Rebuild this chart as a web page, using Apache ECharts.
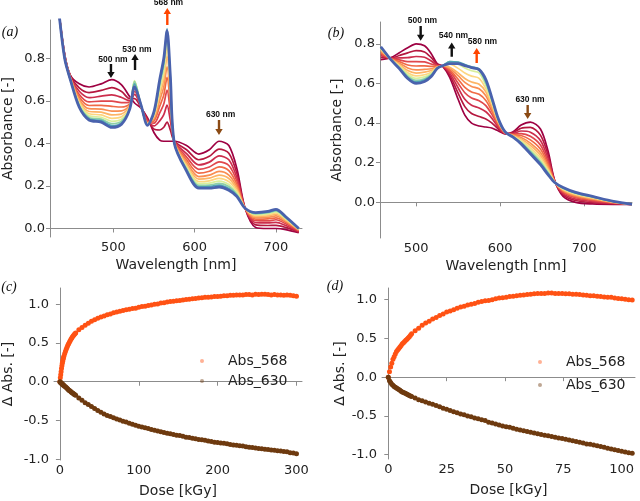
<!DOCTYPE html>
<html>
<head>
<meta charset="utf-8">
<script src="https://cdn.jsdelivr.net/npm/echarts@6/dist/echarts.min.js"></script>
<style>
  html, body { margin: 0; padding: 0; background: #fff; }
  .main { width: 640px; height: 501px; }
</style>
</head>
<body>
<div class="main"></div>
<script>
// ---- data ----
// (a) wavelength grid and spectra, first (dark red) to last (blue)
var wlA = [432, 440, 447, 458, 470, 485, 498, 510, 520, 526, 534, 542, 550, 557, 562, 566, 570, 575, 590, 605, 618, 630, 642, 652, 662, 675, 690, 700, 712, 728];
var specA = [
  [1.05, 0.82, 0.72, 0.68, 0.665, 0.68, 0.70, 0.675, 0.62, 0.59, 0.565, 0.52, 0.45, 0.415, 0.41, 0.41, 0.41, 0.41, 0.39, 0.35, 0.37, 0.41, 0.39, 0.28, 0.095, 0.005, 0.0, 0.0, -0.005, -0.02],
  [1.05, 0.82, 0.72, 0.661, 0.639, 0.649, 0.662, 0.644, 0.61, 0.61, 0.568, 0.514, 0.467, 0.463, 0.476, 0.50, 0.463, 0.41, 0.37, 0.323, 0.339, 0.373, 0.354, 0.258, 0.095, 0.017, 0.014, 0.015, 0.005, -0.017],
  [1.05, 0.81, 0.71, 0.645, 0.615, 0.622, 0.628, 0.616, 0.60, 0.63, 0.57, 0.509, 0.482, 0.506, 0.535, 0.58, 0.509, 0.41, 0.352, 0.299, 0.312, 0.341, 0.323, 0.238, 0.095, 0.027, 0.026, 0.029, 0.014, -0.014],
  [1.05, 0.81, 0.71, 0.63, 0.595, 0.599, 0.599, 0.592, 0.593, 0.645, 0.572, 0.504, 0.495, 0.543, 0.586, 0.65, 0.55, 0.41, 0.336, 0.278, 0.289, 0.313, 0.296, 0.222, 0.095, 0.037, 0.036, 0.041, 0.022, -0.011],
  [1.05, 0.81, 0.71, 0.618, 0.578, 0.579, 0.574, 0.571, 0.586, 0.66, 0.573, 0.50, 0.506, 0.575, 0.628, 0.71, 0.584, 0.405, 0.323, 0.26, 0.269, 0.29, 0.272, 0.207, 0.095, 0.044, 0.045, 0.05, 0.029, -0.009],
  [1.05, 0.81, 0.71, 0.607, 0.563, 0.561, 0.552, 0.553, 0.58, 0.67, 0.575, 0.497, 0.516, 0.603, 0.667, 0.76, 0.615, 0.405, 0.311, 0.244, 0.251, 0.268, 0.251, 0.194, 0.095, 0.051, 0.053, 0.059, 0.035, -0.007],
  [1.05, 0.81, 0.71, 0.599, 0.55, 0.547, 0.534, 0.538, 0.576, 0.68, 0.576, 0.494, 0.524, 0.626, 0.699, 0.81, 0.639, 0.405, 0.301, 0.232, 0.237, 0.251, 0.235, 0.184, 0.095, 0.057, 0.059, 0.067, 0.039, -0.005],
  [1.05, 0.80, 0.70, 0.591, 0.539, 0.534, 0.518, 0.525, 0.571, 0.69, 0.577, 0.492, 0.531, 0.646, 0.726, 0.85, 0.661, 0.40, 0.293, 0.22, 0.224, 0.236, 0.22, 0.175, 0.095, 0.062, 0.065, 0.073, 0.044, -0.004],
  [1.05, 0.80, 0.70, 0.584, 0.53, 0.523, 0.504, 0.514, 0.568, 0.695, 0.578, 0.49, 0.537, 0.663, 0.749, 0.89, 0.68, 0.40, 0.286, 0.211, 0.213, 0.223, 0.207, 0.167, 0.095, 0.066, 0.07, 0.078, 0.047, -0.003],
  [1.05, 0.80, 0.70, 0.579, 0.522, 0.514, 0.493, 0.505, 0.565, 0.69, 0.579, 0.488, 0.542, 0.677, 0.769, 0.93, 0.695, 0.40, 0.28, 0.203, 0.204, 0.212, 0.197, 0.16, 0.095, 0.069, 0.074, 0.083, 0.05, -0.002],
  [1.05, 0.80, 0.70, 0.574, 0.516, 0.507, 0.484, 0.497, 0.562, 0.68, 0.579, 0.486, 0.546, 0.689, 0.784, 0.94, 0.708, 0.40, 0.275, 0.196, 0.197, 0.204, 0.188, 0.155, 0.095, 0.072, 0.077, 0.086, 0.053, -0.001],
  [1.05, 0.80, 0.70, 0.57, 0.51, 0.50, 0.475, 0.49, 0.56, 0.665, 0.58, 0.485, 0.55, 0.70, 0.80, 0.93, 0.72, 0.40, 0.27, 0.19, 0.19, 0.195, 0.18, 0.15, 0.095, 0.075, 0.08, 0.09, 0.055, 0.0]
];

// (b) wavelength grid and spectra
var wlB = [458, 470, 480, 490, 500, 510, 518, 525, 532, 540, 550, 558, 566, 575, 583, 590, 598, 606, 615, 625, 636, 648, 657, 665, 675, 690, 710, 735, 757];
var specB = [
  [0.72, 0.73, 0.755, 0.78, 0.80, 0.79, 0.75, 0.70, 0.685, 0.63, 0.52, 0.44, 0.40, 0.385, 0.38, 0.375, 0.36, 0.345, 0.355, 0.39, 0.405, 0.37, 0.26, 0.11, 0.03, 0.0, -0.008, -0.01, -0.01],
  [0.731, 0.728, 0.741, 0.754, 0.766, 0.759, 0.73, 0.696, 0.686, 0.642, 0.551, 0.483, 0.448, 0.433, 0.421, 0.401, 0.37, 0.347, 0.351, 0.374, 0.378, 0.339, 0.24, 0.108, 0.038, 0.009, -0.002, -0.007, -0.01],
  [0.741, 0.727, 0.729, 0.73, 0.736, 0.732, 0.713, 0.692, 0.687, 0.652, 0.578, 0.52, 0.49, 0.476, 0.457, 0.425, 0.379, 0.348, 0.347, 0.36, 0.354, 0.312, 0.222, 0.107, 0.044, 0.016, 0.004, -0.005, -0.01],
  [0.749, 0.726, 0.719, 0.71, 0.71, 0.709, 0.698, 0.689, 0.687, 0.662, 0.601, 0.553, 0.526, 0.513, 0.488, 0.445, 0.387, 0.35, 0.344, 0.347, 0.333, 0.289, 0.206, 0.106, 0.05, 0.023, 0.009, -0.003, -0.01],
  [0.756, 0.724, 0.71, 0.693, 0.688, 0.689, 0.686, 0.686, 0.688, 0.669, 0.621, 0.58, 0.557, 0.545, 0.514, 0.462, 0.394, 0.351, 0.341, 0.337, 0.315, 0.269, 0.193, 0.104, 0.055, 0.028, 0.013, -0.002, -0.01],
  [0.763, 0.723, 0.702, 0.678, 0.668, 0.671, 0.674, 0.684, 0.688, 0.676, 0.639, 0.605, 0.585, 0.573, 0.538, 0.477, 0.40, 0.352, 0.339, 0.327, 0.299, 0.251, 0.181, 0.103, 0.06, 0.033, 0.017, 0.0, -0.01],
  [0.768, 0.723, 0.696, 0.665, 0.652, 0.657, 0.665, 0.682, 0.689, 0.682, 0.653, 0.625, 0.607, 0.596, 0.558, 0.49, 0.404, 0.352, 0.337, 0.32, 0.287, 0.237, 0.171, 0.103, 0.063, 0.037, 0.02, 0.001, -0.01],
  [0.773, 0.722, 0.69, 0.654, 0.638, 0.644, 0.657, 0.68, 0.689, 0.697, 0.676, 0.653, 0.637, 0.626, 0.574, 0.501, 0.409, 0.353, 0.335, 0.313, 0.275, 0.224, 0.163, 0.102, 0.066, 0.041, 0.023, 0.002, -0.01],
  [0.777, 0.721, 0.685, 0.645, 0.626, 0.633, 0.65, 0.678, 0.69, 0.706, 0.697, 0.678, 0.664, 0.653, 0.589, 0.51, 0.412, 0.354, 0.333, 0.307, 0.266, 0.213, 0.156, 0.101, 0.069, 0.044, 0.025, 0.003, -0.01],
  [0.78, 0.721, 0.681, 0.637, 0.616, 0.624, 0.644, 0.677, 0.69, 0.71, 0.706, 0.69, 0.678, 0.667, 0.601, 0.518, 0.415, 0.354, 0.332, 0.303, 0.258, 0.204, 0.15, 0.101, 0.071, 0.046, 0.027, 0.004, -0.01],
  [0.782, 0.72, 0.678, 0.631, 0.608, 0.617, 0.639, 0.676, 0.69, 0.71, 0.708, 0.695, 0.684, 0.674, 0.61, 0.524, 0.418, 0.355, 0.331, 0.299, 0.251, 0.197, 0.145, 0.10, 0.073, 0.048, 0.028, 0.004, -0.01],
  [0.785, 0.72, 0.675, 0.625, 0.60, 0.61, 0.635, 0.675, 0.69, 0.70, 0.70, 0.69, 0.68, 0.67, 0.62, 0.53, 0.42, 0.355, 0.33, 0.295, 0.245, 0.19, 0.14, 0.10, 0.075, 0.05, 0.03, 0.005, -0.01]
];

// (c) dose [kGy] and delta absorbance
var doseC = [0, 0.5, 1, 1.5, 2, 2.5, 3, 3.5, 4, 4.5, 5, 6, 7, 8, 9, 10, 11, 12, 13, 14, 15, 16, 17, 18, 19,
  20, 24, 28, 32, 36, 40, 44, 48, 52, 56, 60, 64, 68, 72, 76, 80, 84, 88, 92, 96, 100, 104, 108, 112, 116,
  120, 124, 128, 132, 136, 140, 144, 148, 152, 156, 160, 164, 168, 172, 176, 180, 184, 188, 192, 196, 200, 204, 208, 212, 216,
  220, 224, 228, 232, 236, 240, 244, 248, 252, 256, 260, 264, 268, 272, 276, 280, 284, 288, 292, 296, 300];
var abs568C = [0.0, 0.05, 0.09, 0.13, 0.17, 0.205, 0.24, 0.265, 0.29, 0.31, 0.33, 0.36, 0.39, 0.42, 0.445, 0.47, 0.49, 0.51, 0.53, 0.55, 0.565, 0.58, 0.595, 0.605, 0.62,
  0.63, 0.67, 0.70, 0.73, 0.755, 0.78, 0.80, 0.82, 0.835, 0.85, 0.865, 0.875, 0.89, 0.90, 0.91, 0.92, 0.93, 0.935, 0.945, 0.95, 0.96, 0.97, 0.975, 0.985, 0.99,
  1.0, 1.005, 1.015, 1.02, 1.03, 1.035, 1.04, 1.045, 1.05, 1.055, 1.06, 1.065, 1.07, 1.075, 1.08, 1.085, 1.09, 1.09, 1.095, 1.10, 1.10, 1.105, 1.11, 1.11, 1.115,
  1.115, 1.12, 1.12, 1.12, 1.125, 1.125, 1.12, 1.13, 1.125, 1.13, 1.13, 1.125, 1.12, 1.125, 1.12, 1.12, 1.115, 1.12, 1.115, 1.11, 1.105];
var abs630C = [0.0, -0.005, -0.01, -0.015, -0.02, -0.025, -0.03, -0.035, -0.04, -0.045, -0.05, -0.058, -0.066, -0.075, -0.085, -0.095, -0.105, -0.113, -0.12, -0.13, -0.138, -0.146, -0.153, -0.16, -0.168,
  -0.175, -0.21, -0.24, -0.27, -0.295, -0.32, -0.345, -0.37, -0.395, -0.415, -0.435, -0.45, -0.465, -0.48, -0.495, -0.51, -0.52, -0.535, -0.55, -0.56, -0.575, -0.585, -0.595, -0.605, -0.615,
  -0.625, -0.635, -0.645, -0.655, -0.665, -0.67, -0.68, -0.69, -0.695, -0.705, -0.715, -0.72, -0.73, -0.735, -0.745, -0.75, -0.755, -0.765, -0.77, -0.78, -0.785, -0.79, -0.795, -0.80, -0.81,
  -0.815, -0.82, -0.825, -0.83, -0.84, -0.845, -0.85, -0.855, -0.86, -0.865, -0.87, -0.875, -0.88, -0.885, -0.89, -0.895, -0.90, -0.905, -0.915, -0.92, -0.93];

// (d) dose [kGy] and delta absorbance
var doseD = [0, 0.5, 1, 1.5, 2, 2.5, 3, 3.5, 4, 4.5, 5, 5.5, 6, 6.5, 7, 7.5, 8, 8.5, 9, 9.5,
  10, 11.5, 13, 14.5, 16, 17.5, 19, 20.5, 22, 23.5, 25, 26.5, 28, 29.5, 31, 32.5, 34, 35.5, 37, 38.5,
  40, 41.5, 43, 44.5, 46, 47.5, 49, 50.5, 52, 53.5, 55, 56.5, 58, 59.5, 61, 62.5, 64, 65.5, 67, 68.5,
  70, 71.5, 73, 74.5, 76, 77.5, 79, 80.5, 82, 83.5, 85, 86.5, 88, 89.5, 91, 92.5, 94, 95.5, 97, 98.5,
  100, 101.5, 103, 104.5];
var abs568D = [0.0, 0.07, 0.13, 0.18, 0.23, 0.265, 0.30, 0.33, 0.35, 0.37, 0.39, 0.41, 0.43, 0.445, 0.46, 0.475, 0.49, 0.505, 0.52, 0.54,
  0.56, 0.60, 0.63, 0.67, 0.70, 0.72, 0.75, 0.77, 0.795, 0.815, 0.84, 0.855, 0.87, 0.89, 0.905, 0.915, 0.93, 0.94, 0.95, 0.965,
  0.975, 0.985, 0.99, 1.0, 1.01, 1.02, 1.025, 1.03, 1.04, 1.045, 1.05, 1.055, 1.06, 1.065, 1.07, 1.075, 1.08, 1.08, 1.08, 1.085,
  1.085, 1.08, 1.08, 1.08, 1.075, 1.075, 1.07, 1.07, 1.065, 1.06, 1.055, 1.05, 1.05, 1.045, 1.04, 1.035, 1.03, 1.03, 1.02, 1.015,
  1.01, 1.005, 1.0, 0.995];
var abs630D = [0.0, -0.045, -0.07, -0.09, -0.105, -0.12, -0.13, -0.14, -0.15, -0.16, -0.17, -0.18, -0.19, -0.197, -0.205, -0.212, -0.22, -0.228, -0.235, -0.242,
  -0.25, -0.27, -0.29, -0.305, -0.32, -0.335, -0.35, -0.365, -0.38, -0.40, -0.415, -0.43, -0.445, -0.46, -0.475, -0.485, -0.50, -0.51, -0.525, -0.535,
  -0.55, -0.56, -0.58, -0.59, -0.605, -0.615, -0.63, -0.64, -0.645, -0.66, -0.67, -0.68, -0.69, -0.70, -0.71, -0.72, -0.73, -0.74, -0.75, -0.755,
  -0.765, -0.775, -0.785, -0.79, -0.80, -0.81, -0.82, -0.83, -0.84, -0.85, -0.86, -0.865, -0.875, -0.885, -0.895, -0.905, -0.915, -0.925, -0.935, -0.945,
  -0.955, -0.965, -0.975, -0.98];

// tick labels
var ticksWl = [500, 600, 700];
var ticksAbs = [0, 0.2, 0.4, 0.6, 0.8];
var ticksDelta = [-1, -0.5, 0, 0.5, 1];
var ticksDoseC = [0, 100, 200, 300];
var ticksDoseD = [0, 25, 50, 75, 100];
var seriesNames = ['Abs_568', 'Abs_630'];

// ---- styling ----
var FONT = 'DejaVu Sans';
var spectral = ['#9e0142', '#b5183f', '#cc2d4c', '#e0474c', '#f06a45', '#f98e52', '#fdb465', '#fdd680', '#d9ef9b', '#8fd1a4', '#4fa4b5', '#4a62ad'];
var dotColors = ['#ff5214', '#6e3a0f'];

// arrows: x, tail, tip in data units of the panel
var arrowsA = [
  {text: '500 nm', x: 497, from: 0.773, to: 0.707, lx: 499.5, ly: 0.794, color: '#111'},
  {text: '530 nm', x: 526.6, from: 0.745, to: 0.82, lx: 529, ly: 0.841, color: '#111'},
  {text: '568 nm', x: 566.3, from: 0.956, to: 1.036, lx: 567.8, ly: 1.06, color: '#ff4500'},
  {text: '630 nm', x: 629.9, from: 0.51, to: 0.44, lx: 631.8, ly: 0.536, color: '#8b4a14'}
];
var arrowsB = [
  {text: '500 nm', x: 505.4, from: 0.89, to: 0.816, lx: 507.6, ly: 0.918, color: '#111'},
  {text: '540 nm', x: 542.4, from: 0.735, to: 0.806, lx: 544.5, ly: 0.839, color: '#111'},
  {text: '580 nm', x: 572.1, from: 0.703, to: 0.779, lx: 579, ly: 0.809, color: '#ff4500'},
  {text: '630 nm', x: 632.8, from: 0.491, to: 0.42, lx: 635.6, ly: 0.516, color: '#8b4a14'}
];

function xAx(gi, min, max, ticks, gap, name) {
  return {
    gridIndex: gi, type: 'value', min: min, max: max,
    name: name, nameLocation: 'middle', nameGap: gap,
    nameTextStyle: {fontFamily: FONT, fontSize: 14, color: '#222'},
    axisLine: {lineStyle: {color: '#8c8c8c', width: 1}},
    axisTick: {show: true, length: 4, customValues: ticks, lineStyle: {color: '#8c8c8c'}},
    axisLabel: {customValues: ticks, fontFamily: FONT, fontSize: 13, color: '#222', margin: 4},
    splitLine: {show: false}
  };
}
function yAx(gi, min, max, ticks, gap, name) {
  return {
    gridIndex: gi, type: 'value', min: min, max: max,
    name: name, nameLocation: 'middle', nameGap: gap,
    nameTextStyle: {fontFamily: FONT, fontSize: 14, color: '#222'},
    axisLine: {show: true, lineStyle: {color: '#8c8c8c', width: 1}},
    axisTick: {show: true, length: 4, customValues: ticks, lineStyle: {color: '#8c8c8c'}},
    axisLabel: {customValues: ticks, fontFamily: FONT, fontSize: 13, color: '#222', margin: 5,
      formatter: function (v) { return v.toFixed(1); }},
    splitLine: {show: false}
  };
}

function specSeries(gi, wl, spec) {
  return spec.map(function (row, i) {
    return {
      type: 'line', xAxisIndex: gi, yAxisIndex: gi, silent: true,
      showSymbol: false, smooth: 0.3,
      lineStyle: {width: i === spec.length - 1 ? 2.8 : 1.7, color: spectral[i]},
      data: wl.map(function (w, j) { return [w, row[j]]; })
    };
  });
}
function dotSeries(gi, dose, vals, k) {
  return {
    type: 'scatter', name: seriesNames[k], xAxisIndex: gi, yAxisIndex: gi,
    symbolSize: 5, itemStyle: {color: dotColors[k], opacity: 1},
    data: dose.map(function (d, j) { return [d, vals[j]]; })
  };
}
function legendAt(left, top, gap) {
  return {
    data: seriesNames, orient: 'vertical', left: left, top: top, padding: 0,
    icon: 'circle', itemWidth: 42, itemHeight: 4, itemGap: gap,
    itemStyle: {opacity: 0.45},
    textStyle: {fontFamily: FONT, fontSize: 14, color: '#222'}
  };
}

var myChart = echarts.init(document.querySelector('.main'));

option = {
  animation: false,
  backgroundColor: '#fff',
  grid: [
    {left: 50, top: 20, width: 252, height: 217},
    {left: 380, top: 22, width: 252, height: 216},
    {left: 53, top: 288, width: 249, height: 172},
    {left: 382, top: 288, width: 253, height: 171}
  ],
  xAxis: [
    xAx(0, 422, 732, ticksWl, 21, 'Wavelength [nm]'),
    xAx(1, 457, 757, ticksWl, 21, 'Wavelength [nm]'),
    xAx(2, -7.5, 307, ticksDoseC, 24, 'Dose [kGy]'),
    xAx(3, -2.7, 105.7, ticksDoseD, 24, 'Dose [kGy]')
  ],
  yAxis: [
    yAx(0, -0.04, 0.98, ticksAbs, 35, 'Absorbance [-]'),
    yAx(1, -0.18, 0.91, ticksAbs, 36, 'Absorbance [-]'),
    yAx(2, -1.01, 1.21, ticksDelta, 39, 'Δ Abs. [-]'),
    yAx(3, -1.055, 1.15, ticksDelta, 35, 'Δ Abs. [-]')
  ],
  legend: [legendAt(200, 354, 6), legendAt(538, 355, 9)],
  series: [].concat(
    specSeries(0, wlA, specA),
    specSeries(1, wlB, specB),
    [dotSeries(2, doseC, abs568C, 0), dotSeries(2, doseC, abs630C, 1),
     dotSeries(3, doseD, abs568D, 0), dotSeries(3, doseD, abs630D, 1)]
  )
};

myChart.setOption(option);

// arrows and labels placed through the axes
function arrowEls(gi, list) {
  var els = [];
  list.forEach(function (a) {
    var p0 = myChart.convertToPixel({gridIndex: gi}, [a.x, a.from]);
    var p1 = myChart.convertToPixel({gridIndex: gi}, [a.x, a.to]);
    var x = p0[0], y0 = p0[1], y1 = p1[1];
    var s = y1 > y0 ? 1 : -1;
    var hb = y1 - s * 6;
    els.push({
      type: 'polygon', z: 100, silent: true,
      shape: {points: [[x - 1.2, y0], [x - 1.2, hb], [x - 3.7, hb], [x, y1], [x + 3.7, hb], [x + 1.2, hb], [x + 1.2, y0]]},
      style: {fill: a.color}
    });
    var pl = myChart.convertToPixel({gridIndex: gi}, [a.lx, a.ly]);
    els.push({
      type: 'text', z: 100, silent: true, x: pl[0], y: pl[1],
      style: {text: a.text, fontFamily: 'Liberation Sans', fontWeight: 'bold', fontSize: 8.5,
        fill: '#111', align: 'center', verticalAlign: 'middle'}
    });
  });
  return els;
}
function panelLabel(t, x, y) {
  return {type: 'text', x: x, y: y, z: 100, silent: true,
    style: {text: t, fontFamily: 'Liberation Serif', fontStyle: 'italic', fontSize: 14,
      fill: '#111', align: 'center', verticalAlign: 'middle'}};
}

myChart.setOption({
  graphic: [].concat(
    arrowEls(0, arrowsA),
    arrowEls(1, arrowsB),
    [panelLabel('(a)', 10, 32), panelLabel('(b)', 336, 33), panelLabel('(c)', 9, 287), panelLabel('(d)', 335, 286)]
  )
});
</script>
</body>
</html>
